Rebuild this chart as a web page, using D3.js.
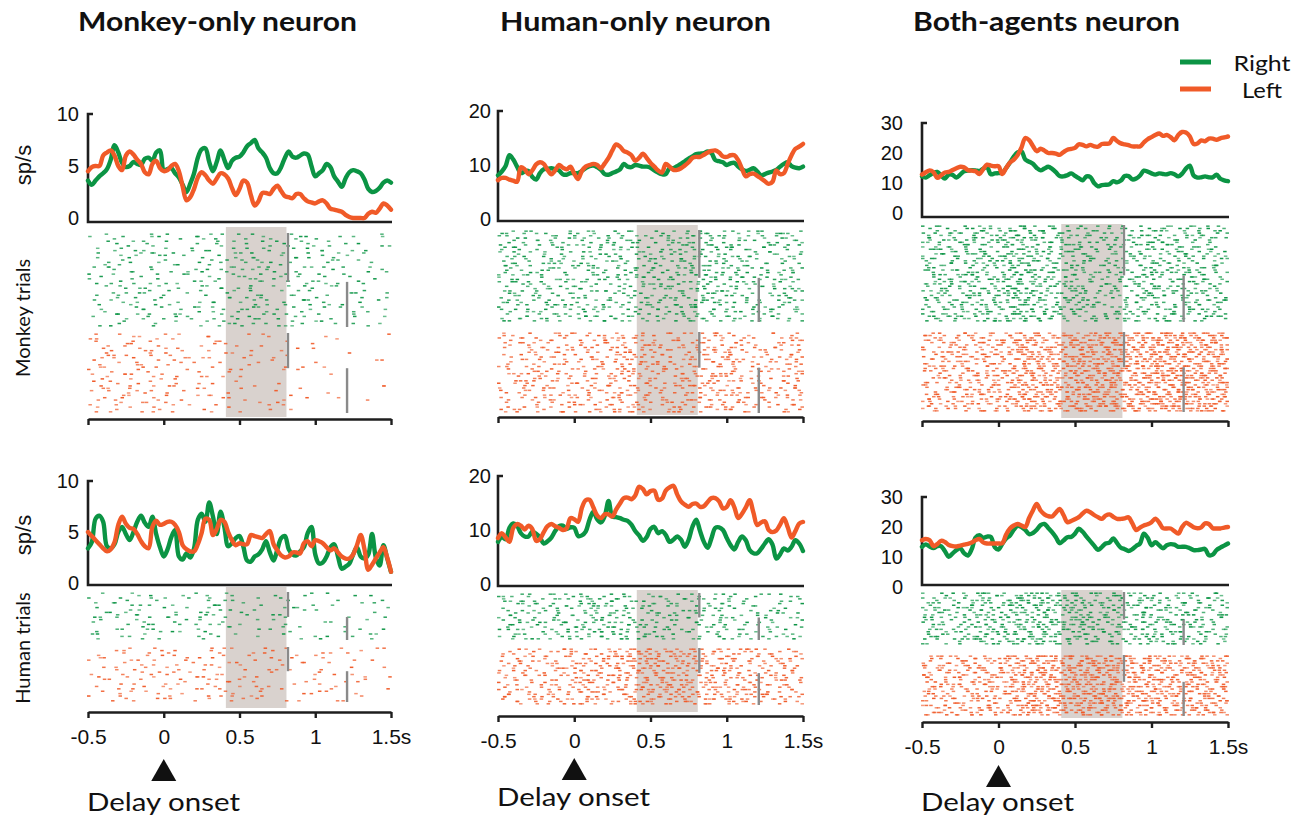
<!DOCTYPE html>
<html>
<head>
<meta charset="utf-8">
<script src="https://cdn.jsdelivr.net/npm/d3@7/dist/d3.min.js"></script>
<style>
  html, body { margin: 0; padding: 0; background: #fff; }
  svg { display: block; }
</style>
</head>
<body>
<svg id="fig" width="1305" height="818"></svg>
<script>
// ---- time base shared by all PSTHs (s) ----
const timeStart = -0.5;
const timeStep = 0.025;
const timeTicks = [-0.5, 0, 0.5, 1, 1.5];
const timeTickLabels = ["-0.5", "0", "0.5", "1", "1.5s"];

// ---- task epochs (s) ----
const shadedEpoch = [0.41, 0.81];
const eventTimes = [0.82, 1.21];

// ---- column titles and axis maxima ----
const neuronTitles = ["Monkey-only neuron", "Human-only neuron", "Both-agents neuron"];
const rateMax = [10, 20, 30];
const rateTicks = [[0, 5, 10], [0, 10, 20], [0, 10, 20, 30]];
const trialLabels = ["Monkey trials", "Human trials"];
const legendLabels = ["Right", "Left"];

// ---- trial counts per raster block [right, left] ----
const trialCountsMonkey = [[40, 34], [40, 34], [42, 34]];
const trialCountsHuman = [[20, 23], [20, 24], [22, 26]];
// fraction of trials (from the top of each block) aligned to the first event
const eventSplit = [0.52, 0.44];

// ---- firing rates (sp/s), one value every 25 ms from -0.5 to 1.5 s ----
// Monkey-only neuron, monkey trials
const monkeyOnly_monkey_right = [3.6,3.2,3.6,4.0,4.3,4.7,5.6,7.0,6.3,5.3,4.9,5.0,5.4,5.2,5.1,5.7,5.8,5.5,6.3,6.5,4.6,4.7,4.8,4.3,3.9,3.2,2.5,3.3,4.3,5.8,6.6,6.7,5.4,4.5,5.4,6.5,5.6,4.8,5.5,5.8,5.9,6.3,6.9,7.2,7.5,6.7,6.3,5.8,4.8,4.3,4.3,4.9,5.8,6.4,5.9,5.8,6.0,6.2,6.1,5.0,4.0,4.3,4.6,5.2,4.9,4.0,3.5,3.0,3.8,4.4,4.6,4.5,4.3,3.7,2.8,2.5,2.6,2.9,3.4,3.6,3.4];
const monkeyOnly_monkey_left = [4.5,4.9,5.0,5.0,6.0,6.3,6.5,6.0,5.0,4.6,6.0,6.4,6.1,5.6,5.2,4.4,4.2,5.2,5.5,4.8,4.5,4.6,5.0,5.2,4.5,3.0,1.7,2.0,2.8,3.9,4.4,4.1,3.6,3.3,3.8,4.3,4.2,3.8,2.9,2.2,2.8,3.6,3.4,2.2,1.2,1.6,2.4,2.4,2.3,2.8,3.1,2.6,2.1,2.0,1.9,2.3,2.3,1.9,1.6,1.5,1.4,1.6,1.7,1.4,0.9,0.8,0.7,0.6,0.3,0.1,0.0,0.0,0.0,0.0,0.4,0.6,0.5,0.9,1.4,1.2,0.8];
// Human-only neuron, monkey trials
const humanOnly_monkey_right = [8.1,8.8,9.8,11.8,11.0,9.7,8.5,8.8,8.9,7.8,7.3,8.5,9.2,9.3,9.4,9.2,9.0,8.3,8.2,8.5,8.5,8.5,8.9,9.4,9.8,9.9,9.6,9.1,8.3,8.2,8.5,8.8,9.2,10.2,9.7,9.6,10.0,9.9,9.7,9.7,9.5,9.0,8.6,8.3,8.3,9.4,9.4,9.8,10.2,10.7,11.2,11.6,12.0,12.1,12.2,12.5,12.2,10.9,10.7,10.5,10.0,10.3,10.4,9.7,9.2,8.9,9.1,9.4,8.8,8.1,8.3,8.6,8.8,9.1,9.7,10.2,10.5,9.8,9.5,9.4,9.7];
const humanOnly_monkey_left = [7.2,7.6,7.6,7.3,7.1,6.9,9.6,9.2,8.3,9.0,10.1,10.5,10.2,9.1,8.3,9.0,10.0,9.5,9.2,9.7,8.4,7.4,8.9,9.7,10.0,10.2,10.0,9.4,10.3,11.3,12.7,13.8,13.4,12.6,12.3,11.8,10.8,11.3,12.1,11.3,10.4,9.7,9.0,8.6,10.2,9.7,9.1,9.1,9.4,9.9,10.5,11.3,11.5,11.5,11.9,12.3,12.6,12.7,12.3,11.6,11.5,11.8,11.8,10.9,9.3,7.9,8.3,8.4,8.0,7.5,7.0,6.5,6.9,9.0,8.3,8.5,10.2,11.8,13.0,13.4,13.9];
// Both-agents neuron, monkey trials
const bothAgents_monkey_right = [12.2,11.8,12.6,13.4,13.7,12.5,11.5,12.8,12.7,11.8,12.8,13.9,14.1,14.3,14.2,14.0,14.8,15.3,12.9,13.2,13.3,13.4,15.0,16.8,18.8,20.2,20.6,17.8,17.1,16.4,15.0,14.2,14.8,15.4,14.7,13.6,12.3,12.2,12.6,13.2,12.4,11.6,10.9,12.2,12.0,10.0,8.9,9.3,9.4,9.6,10.6,10.2,10.8,12.3,12.3,11.2,11.5,12.5,14.1,13.8,13.2,12.8,13.2,13.0,12.9,13.3,12.9,12.2,13.1,14.8,15.8,12.5,11.8,11.9,12.2,11.9,11.9,12.8,11.4,10.9,10.6];
const bothAgents_monkey_left = [12.8,13.6,14.2,13.6,11.7,12.6,13.5,13.7,14.3,14.9,15.4,15.2,14.3,14.1,13.9,13.0,14.6,16.1,15.8,15.6,15.6,13.0,15.0,16.8,17.8,19.3,21.8,25.0,24.3,22.3,20.6,21.4,20.8,20.0,20.0,19.8,19.4,20.3,21.1,21.4,21.7,22.9,22.7,22.2,22.7,22.2,22.1,23.0,23.1,23.2,25.0,24.0,23.2,22.9,22.6,22.2,22.2,22.2,23.5,24.6,25.3,26.0,26.5,25.7,26.0,25.3,24.2,26.0,27.0,26.8,25.6,23.0,23.2,24.2,23.9,24.8,24.8,24.4,24.9,25.2,25.5];
// Monkey-only neuron, human trials
const monkeyOnly_human_right = [3.4,4.0,6.3,6.6,6.0,3.6,3.4,3.8,5.0,5.5,4.8,4.2,5.0,6.0,6.6,5.9,5.5,6.5,4.8,3.5,2.6,3.3,4.5,5.2,2.6,2.3,2.9,2.5,3.4,6.2,6.8,6.0,7.9,6.5,4.8,7.0,5.5,3.6,3.9,4.4,4.6,3.6,2.2,2.1,2.6,2.8,3.3,4.1,3.0,2.2,3.3,4.4,4.6,3.3,2.8,2.7,3.1,3.5,4.9,5.5,2.8,1.9,2.0,2.6,3.5,3.8,2.6,1.4,1.6,1.9,2.8,3.5,2.6,2.4,2.8,4.8,2.5,1.7,3.7,2.4,1.1];
const monkeyOnly_human_left = [5.0,4.6,4.2,3.8,3.4,3.1,3.3,4.0,5.7,6.5,5.8,5.4,5.3,4.8,4.1,3.6,3.4,5.5,6.1,5.7,5.8,6.0,6.0,5.7,5.0,3.7,3.3,3.1,3.1,3.8,4.9,6.3,6.2,4.7,5.3,6.2,6.0,5.0,4.2,3.7,3.9,3.8,3.8,4.7,4.6,4.5,4.4,4.8,5.1,3.8,3.2,2.7,2.5,2.6,3.0,3.0,2.9,3.9,4.1,3.6,4.2,4.1,3.9,3.5,3.2,3.4,3.0,2.6,2.4,2.4,2.8,3.7,4.7,3.3,1.3,1.8,2.4,3.0,3.5,2.5,1.1];
// Human-only neuron, human trials
const humanOnly_human_right = [7.8,8.7,8.3,10.4,11.2,10.8,9.4,8.8,8.8,9.7,9.3,8.6,7.5,7.9,8.6,9.8,10.7,10.8,10.2,10.5,10.4,8.9,9.0,9.7,11.9,13.4,12.0,11.4,12.6,15.4,12.5,12.4,12.2,11.9,11.7,11.0,9.8,9.0,8.0,8.7,10.2,10.6,9.4,9.8,9.1,7.8,8.2,8.8,8.2,6.9,8.2,10.6,11.9,9.8,7.8,6.7,8.5,10.4,10.5,10.0,8.5,7.2,6.4,7.8,8.8,8.1,6.3,5.7,5.7,6.5,7.5,8.3,7.3,4.7,5.5,6.6,6.2,6.9,8.1,7.5,6.1];
const humanOnly_human_left = [8.5,9.4,8.6,7.8,10.4,11.1,10.8,10.1,10.8,10.2,8.0,8.3,9.6,10.7,11.1,10.7,10.4,10.0,10.3,12.2,12.0,11.5,14.1,15.5,15.6,14.2,12.7,12.2,12.9,12.9,12.5,13.8,14.9,15.9,16.0,15.7,16.4,18.0,17.6,16.6,17.2,17.3,15.6,15.8,17.3,17.9,18.2,16.6,15.3,14.7,14.3,14.8,14.9,14.3,14.4,15.2,15.9,15.9,15.3,14.0,14.3,15.5,14.2,12.2,13.0,14.2,15.5,13.2,10.9,11.4,11.6,10.0,9.6,9.9,11.0,12.2,10.5,8.6,9.8,11.2,11.5];
// Both-agents neuron, human trials
const bothAgents_human_right = [13.4,14.2,13.5,13.0,13.6,13.6,11.9,10.1,11.2,12.3,12.9,11.3,10.5,12.6,16.5,17.3,16.4,16.8,16.7,13.3,12.5,14.4,16.2,17.2,19.1,20.4,20.0,19.0,17.6,18.0,19.1,20.6,21.0,19.7,18.3,16.6,14.6,15.5,16.6,16.7,17.8,19.4,18.4,16.8,15.3,13.8,12.4,13.3,14.5,14.8,16.2,14.6,13.1,12.6,12.0,12.6,13.7,14.5,17.8,16.4,13.9,14.9,13.9,12.9,13.9,14.3,14.1,13.4,13.4,13.4,12.9,12.3,12.3,12.5,12.7,10.6,10.8,12.3,13.1,13.8,14.5];
const bothAgents_human_left = [15.6,16.0,15.6,13.6,14.3,15.4,15.0,14.0,13.6,13.5,13.8,14.1,14.4,14.8,15.6,16.0,14.9,14.5,14.5,14.5,14.5,14.6,17.5,19.5,20.5,21.0,20.5,20.0,23.0,25.5,27.7,25.5,24.2,23.6,23.5,24.8,26.0,24.0,21.6,22.0,22.6,23.3,24.5,25.4,24.9,24.0,23.3,22.7,23.8,24.2,23.4,22.7,22.7,22.9,23.2,21.2,19.0,19.8,20.5,20.9,21.6,22.8,21.5,19.6,19.5,19.5,18.6,17.8,20.0,21.4,20.8,19.9,19.6,19.9,21.2,21.0,19.6,19.5,19.5,19.8,20.0];

const rightColor = "#0b9444";
const leftColor = "#f05a28";
const axisColor = "#1e1e1e";

// ---- panel geometry (pixels) ----
const columns = [
  { x0: 88,  x1: 391, labelPad: 9 },
  { x0: 498, x1: 803, labelPad: 7 },
  { x0: 922, x1: 1228, labelPad: 19 }
];
const topRow = [
  { top: 114, zero: 218, base: 222, g: [233, 327], o: [333, 413], shade: [227, 417], axis: 419 },
  { top: 111, zero: 219, base: 221, g: [230, 322], o: [332, 413], shade: [225, 415], axis: 417 },
  { top: 123, zero: 213, base: 217, g: [225, 322], o: [332, 412], shade: [224, 418], axis: 421 }
];
const bottomRow = [
  { top: 481, zero: 583, base: 585, g: [592, 640], o: [647, 702], shade: [587, 708], axis: 712, arrow: 759, note: 811 },
  { top: 476, zero: 584, base: 586, g: [593, 640], o: [648, 705], shade: [590, 712], axis: 716, arrow: 758, note: 806 },
  { top: 497, zero: 587, base: 585, g: [592, 645], o: [655, 716], shade: [590, 718], axis: 722, arrow: 765, note: 811 }
];

const rates = {
  monkey: [
    [monkeyOnly_monkey_right, monkeyOnly_monkey_left],
    [humanOnly_monkey_right, humanOnly_monkey_left],
    [bothAgents_monkey_right, bothAgents_monkey_left]
  ],
  human: [
    [monkeyOnly_human_right, monkeyOnly_human_left],
    [humanOnly_human_right, humanOnly_human_left],
    [bothAgents_human_right, bothAgents_human_left]
  ]
};

const svg = d3.select("#fig");
const tickFont = "'Liberation Sans', Arial, sans-serif";
const textFont = "Lato, 'Open Sans', sans-serif";

// rate at an arbitrary time, linear between 25 ms samples
function rateAt(series, t) {
  const p = (t - timeStart) / timeStep;
  const i = Math.max(0, Math.min(series.length - 2, Math.floor(p)));
  const f = Math.max(0, Math.min(1, p - i));
  return series[i] * (1 - f) + series[i + 1] * f;
}

// radical-inverse sequence used to lay out spikes under the rate curve
function radical(i, b) {
  let f = 1, r = 0;
  while (i > 0) { f /= b; r += f * (i % b); i = Math.floor(i / b); }
  return r;
}

// spike times per trial, thinned so that density follows the rate curve
function spikeTrain(series, nTrials, seedOffset) {
  const peak = d3.max(series);
  const n = Math.round(nTrials * 2 * peak);
  const spikes = [];
  for (let k = 1; k <= n; k++) {
    const idx = k + seedOffset;
    let t = timeStart + 2 * radical(idx, 2) + (radical(idx, 7) - 0.5) * 0.05;
    t = Math.max(-0.495, Math.min(1.495, t));
    const row = Math.min(nTrials - 1, Math.floor(radical(idx, 3) * nTrials));
    const u = radical(idx, 5) * peak;
    if (u < rateAt(series, t)) spikes.push({ t, row });
  }
  return spikes;
}

function drawPsth(ci, geo, pair) {
  const col = columns[ci];
  const x = d3.scaleLinear().domain([-0.5, 1.5]).range([col.x0, col.x1]);
  const y = d3.scaleLinear().domain([0, rateMax[ci]]).range([geo.zero, geo.top]);
  const g = svg.append("g");

  // axes
  g.append("path")
    .attr("d", `M${col.x0 + 5},${geo.top} H${col.x0} V${geo.base} H${col.x1 + 1}`)
    .attr("fill", "none").attr("stroke", axisColor).attr("stroke-width", 2.6);

  const ya = g.append("g").attr("transform", `translate(${col.x0},0)`)
    .call(d3.axisLeft(y).tickValues(rateTicks[ci]).tickSize(0).tickPadding(col.labelPad).tickFormat(d3.format("d")));
  ya.select(".domain").remove();
  ya.selectAll("text").attr("font-family", tickFont).attr("font-size", 20).attr("fill", "#111");

  const line = d3.line()
    .x((d, i) => x(timeStart + i * timeStep))
    .y(d => y(d))
    .curve(d3.curveCatmullRom.alpha(0.5));

  [0, 1].forEach(s => {
    g.append("path").datum(pair[s]).attr("d", line)
      .attr("fill", "none")
      .attr("stroke", s === 0 ? rightColor : leftColor)
      .attr("stroke-width", 4.4)
      .attr("stroke-linejoin", "round").attr("stroke-linecap", "round");
  });
}

function drawRaster(ci, geo, pair, counts, withLabels, seedBase) {
  const col = columns[ci];
  const x = d3.scaleLinear().domain([-0.5, 1.5]).range([col.x0, col.x1]);
  const g = svg.append("g");

  // delay-period shading
  g.append("rect")
    .attr("x", x(shadedEpoch[0])).attr("width", x(shadedEpoch[1]) - x(shadedEpoch[0]))
    .attr("y", geo.shade[0]).attr("height", geo.shade[1] - geo.shade[0])
    .attr("fill", "#d9d2ce");

  const blocks = [
    { span: geo.g, color: rightColor, n: counts[0], series: pair[0], split: eventSplit[0] },
    { span: geo.o, color: leftColor, n: counts[1], series: pair[1], split: eventSplit[1] }
  ];

  blocks.forEach((b, bi) => {
    const yRow = d3.scaleBand().domain(d3.range(b.n)).range(b.span).paddingInner(0);
    const spikes = spikeTrain(b.series, b.n, seedBase + bi * 977);
    g.append("g").selectAll("rect").data(spikes).join("rect")
      .attr("x", d => x(d.t) - 1.75)
      .attr("y", d => yRow(d.row) + yRow.bandwidth() / 2 - 0.75)
      .attr("width", 3.5).attr("height", 1.5)
      .attr("fill", b.color)
      .attr("fill-opacity", (d, i) => 0.6 + 0.4 * radical(i + 1, 7));

    // behavioural event markers for the two trial subsets
    const splitY = b.span[0] + (b.span[1] - b.span[0]) * b.split;
    g.append("line")
      .attr("x1", x(eventTimes[0])).attr("x2", x(eventTimes[0]))
      .attr("y1", b.span[0]).attr("y2", splitY)
      .attr("stroke", "#8a8a8a").attr("stroke-width", 2.4);
    g.append("line")
      .attr("x1", x(eventTimes[1])).attr("x2", x(eventTimes[1]))
      .attr("y1", splitY).attr("y2", b.span[1])
      .attr("stroke", "#8a8a8a").attr("stroke-width", 2.4);
  });

  // time axis
  const xa = g.append("g").attr("transform", `translate(0,${geo.axis})`)
    .call(d3.axisBottom(x).tickValues(timeTicks).tickSizeInner(6).tickSizeOuter(0).tickPadding(11)
      .tickFormat((d, i) => withLabels ? timeTickLabels[i] : ""));
  xa.select(".domain").attr("stroke", axisColor).attr("stroke-width", 2.6);
  xa.selectAll(".tick line").attr("stroke", axisColor).attr("stroke-width", 2.4);
  xa.selectAll("text").attr("font-family", tickFont).attr("font-size", 21).attr("fill", "#111");

  if (withLabels) {
    const cx = x(0);
    g.append("path")
      .attr("d", `M${cx - 12.5},${geo.arrow + 22} L${cx + 12.5},${geo.arrow + 22} L${cx},${geo.arrow} Z`)
      .attr("fill", "#111");
    g.append("text").attr("x", col.x0 - 1).attr("y", geo.note)
      .attr("font-family", textFont).attr("font-size", 25).attr("fill", "#111")
      .attr("textLength", 153).attr("lengthAdjust", "spacingAndGlyphs")
      .text("Delay onset");
  }
}

columns.forEach((col, ci) => {
  drawPsth(ci, topRow[ci], rates.monkey[ci]);
  drawRaster(ci, topRow[ci], rates.monkey[ci], trialCountsMonkey[ci], false, 40 + ci * 3001);
  drawPsth(ci, bottomRow[ci], rates.human[ci]);
  drawRaster(ci, bottomRow[ci], rates.human[ci], trialCountsHuman[ci], true, 20000 + ci * 3001);
});

// column titles
const titleX = [78, 500, 913];
const titleW = [279, 271, 267];
neuronTitles.forEach((t, i) => {
  svg.append("text").attr("x", titleX[i]).attr("y", 31)
    .attr("font-family", textFont).attr("font-weight", 700).attr("font-size", 26)
    .attr("textLength", titleW[i]).attr("lengthAdjust", "spacingAndGlyphs")
    .attr("fill", "#111").text(t);
});

// y-axis labels, left column only
function vlabel(text, cx, cy, font, size) {
  svg.append("text").attr("transform", `translate(${cx},${cy}) rotate(-90)`)
    .attr("text-anchor", "middle").attr("dominant-baseline", "central")
    .attr("font-family", font).attr("font-size", size).attr("fill", "#111").text(text);
}
vlabel("sp/s", 23, 165, tickFont, 22);
vlabel("sp/s", 23, 535, tickFont, 22);
vlabel(trialLabels[0], 22, 318, textFont, 20);
vlabel(trialLabels[1], 22, 648, textFont, 20);

// legend
const legend = svg.append("g");
const legendW = [57, 40];
legendLabels.forEach((lab, i) => {
  const yy = 62 + i * 27;
  legend.append("line").attr("x1", 1180).attr("x2", 1211).attr("y1", yy).attr("y2", yy)
    .attr("stroke", i === 0 ? rightColor : leftColor).attr("stroke-width", 5);
  legend.append("text").attr("x", 1262 - legendW[i] / 2).attr("y", yy)
    .attr("dominant-baseline", "central")
    .attr("textLength", legendW[i]).attr("lengthAdjust", "spacingAndGlyphs")
    .attr("font-family", textFont).attr("font-size", 21).attr("fill", "#111").text(lab);
});
</script>
</body>
</html>
